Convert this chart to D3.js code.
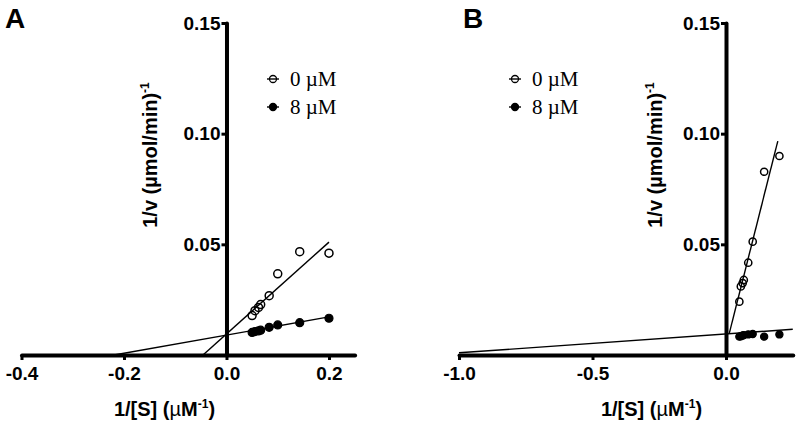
<!DOCTYPE html>
<html><head><meta charset="utf-8">
<script src="https://cdn.jsdelivr.net/npm/d3@7"></script>
<style>body{margin:0;background:#fff}</style>
</head><body><svg id="c" width="800" height="430"></svg>
<script>
// ---- data ----
const invS = [0.05, 0.0556, 0.0625, 0.0667, 0.0833, 0.1, 0.1429, 0.2];
const seriesNames = ["0 \u00B5M", "8 \u00B5M"];
const aOpen   = [0.0178, 0.0200, 0.0215, 0.0228, 0.0268, 0.0367, 0.0467, 0.0460];
const aFilled = [0.0102, 0.0106, 0.0109, 0.0112, 0.0125, 0.0136, 0.0146, 0.0166];
const bOpen   = [0.0241, 0.0310, 0.0325, 0.0339, 0.0417, 0.0512, 0.0828, 0.0899];
const bFilled = [0.0083, 0.0085, 0.0088, 0.0090, 0.0093, 0.0095, 0.0083, 0.0093];
// fitted lines: [intercept, slope, xStart, xEnd]
const aOpenFit   = [0.0095, 0.2075, -0.0458, 0.2];
const aFilledFit = [0.0090, 0.0410, -0.2195, 0.2];
const bOpenFit   = [0.0039, 0.478, 0.012, 0.194];
const bFilledFit = [0.0095, 0.0085, -1.0, 0.25];
const aXDomain = [-0.4, 0.25];
const bXDomain = [-1.0, 0.25];
const aXTicks = [-0.4, -0.2, 0.0, 0.2];
const bXTicks = [-1.0, -0.5, 0.0];
const yDomain = [0, 0.15];
const yTicks = [0.05, 0.10, 0.15];

const svg = d3.select("#c");
const SANS = "'Liberation Sans', Arial, sans-serif";
const SERIF = "'Liberation Serif', 'Times New Roman', serif";

function drawPanel(o) {
  const x = d3.scaleLinear().domain(o.xDomain).range(o.xRange);
  const y = d3.scaleLinear().domain(yDomain).range([355, 23]);
  const g = svg.append("g");
  const line = d3.line().x(d => x(d[0])).y(d => y(d[1]));
  [o.openFit, o.filledFit].forEach(f => {
    const pts = [f[2], f[3]].map(v => [v, f[0] + f[1] * v]);
    g.append("path").attr("d", line(pts)).attr("stroke", "#000")
      .attr("stroke-width", 1.4).attr("fill", "none");
  });
  g.selectAll(null).data(invS.map((v, i) => [v, o.open[i]])).join("circle")
    .attr("cx", d => x(d[0])).attr("cy", d => y(d[1])).attr("r", o.r)
    .attr("fill", "none").attr("stroke", "#000").attr("stroke-width", 1.5);
  g.selectAll(null).data(invS.map((v, i) => [v, o.filled[i]])).join("circle")
    .attr("cx", d => x(d[0])).attr("cy", d => y(d[1])).attr("r", o.r)
    .attr("fill", "#000").attr("stroke", "#000").attr("stroke-width", 1.2);

  const xAxis = d3.axisBottom(x).tickValues(o.xTicks).tickFormat(d => d.toFixed(1))
    .tickSize(5).tickSizeOuter(0).tickPadding(7);
  const gx = g.append("g").attr("transform", `translate(0,${y(0)})`).call(xAxis);
  const yAxis = d3.axisLeft(y).tickValues(yTicks).tickFormat(d => d.toFixed(2))
    .tickSize(5).tickSizeOuter(0).tickPadding(1);
  const gy = g.append("g").attr("transform", `translate(${x(0)},0)`).call(yAxis);
  [gx, gy].forEach(a => {
    a.select(".domain").attr("stroke", "#000").attr("stroke-width", 4).attr("stroke-linecap", "round");
    a.selectAll(".tick line").attr("stroke", "#000").attr("stroke-width", 3);
    a.selectAll(".tick text").attr("fill", "#000").attr("font-family", SANS)
      .attr("font-weight", "bold").attr("font-size", 19);
  });

  // y title
  const yt = svg.append("text").attr("transform", `translate(${o.yTitleX},155) rotate(-90)`)
    .attr("text-anchor", "middle").attr("font-family", SANS).attr("font-weight", "bold")
    .attr("font-size", 20).attr("fill", "#000");
  yt.append("tspan").text("1/v (\u00B5mol/min)");
  yt.append("tspan").attr("font-size", 12).attr("dy", -8).text("-1");

  // x title
  const xt = svg.append("text").attr("x", o.xTitleX).attr("y", 416)
    .attr("text-anchor", "middle").attr("font-family", SANS).attr("font-weight", "bold")
    .attr("font-size", 20).attr("fill", "#000");
  xt.append("tspan").text("1/[S] (");
  xt.append("tspan").attr("font-weight", "normal").text("\u00B5");
  xt.append("tspan").text("M");
  xt.append("tspan").attr("font-size", 12).attr("dy", -8).text("-1");
  xt.append("tspan").attr("dy", 8).text(")");

  // legend
  seriesNames.forEach((name, i) => {
    const ly = 79 + 28 * i;
    const lg = svg.append("g").attr("transform", `translate(${o.legendX},${ly})`);
    lg.append("line").attr("x1", -6).attr("x2", 6).attr("stroke", "#000").attr("stroke-width", 1.4);
    lg.append("circle").attr("r", 3.5).attr("fill", i === 0 ? "none" : "#000")
      .attr("stroke", "#000").attr("stroke-width", 1.3);
    lg.append("text").attr("x", 17).attr("dy", "0.35em").attr("font-family", SERIF)
      .attr("font-size", 21).attr("fill", "#000").text(name);
  });

  // panel label
  svg.append("text").attr("x", o.labelX).attr("y", 28).attr("font-family", SANS)
    .attr("font-weight", "bold").attr("font-size", 28).attr("fill", "#000").text(o.label);
}

drawPanel({
  xDomain: aXDomain, xRange: [21.5, 354.6], xTicks: aXTicks,
  open: aOpen, filled: aFilled, openFit: aOpenFit, filledFit: aFilledFit,
  r: 4, legendX: 273, yTitleX: 157, xTitleX: 164.5, label: "A", labelX: 5
});
drawPanel({
  xDomain: bXDomain, xRange: [459, 792.75], xTicks: bXTicks,
  open: bOpen, filled: bFilled, openFit: bOpenFit, filledFit: bFilledFit,
  r: 3.6, legendX: 515, yTitleX: 662, xTitleX: 651.5, label: "B", labelX: 463
});
</script>
</body></html>
